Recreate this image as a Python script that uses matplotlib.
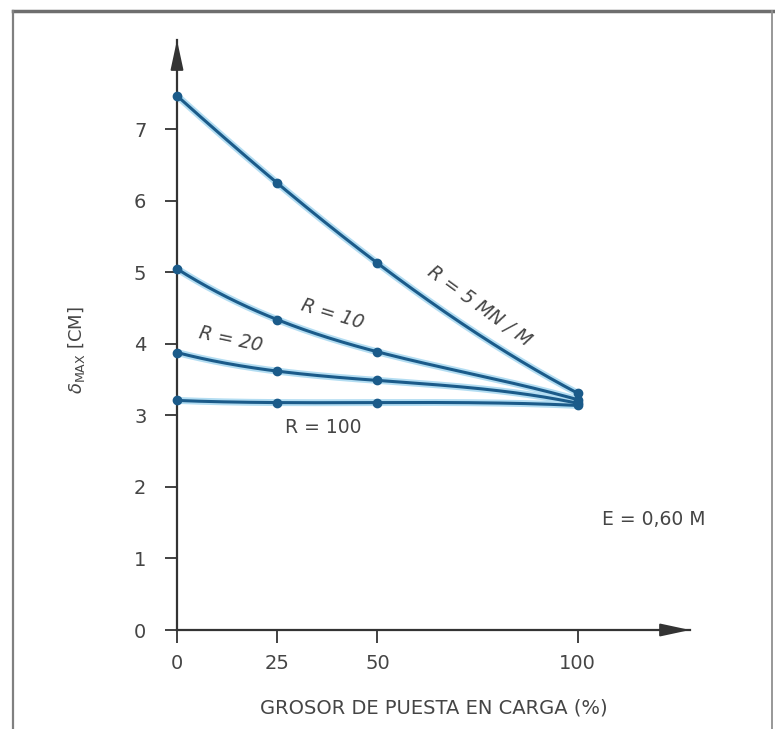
import numpy as np
import matplotlib.pyplot as plt
from matplotlib.lines import Line2D

# datos
grosor = [0, 25, 50, 100]
r5 = [7.47, 6.25, 5.13, 3.31]
r10 = [5.05, 4.34, 3.89, 3.22]
r20 = [3.88, 3.62, 3.49, 3.17]
r100 = [3.21, 3.18, 3.18, 3.14]

etiquetas = ["R = 5 MN / M", "R = 10", "R = 20", "R = 100"]
x_ticks = [0, 25, 50, 100]
y_ticks = [0, 1, 2, 3, 4, 5, 6, 7]

plt.rcParams['font.family'] = ['DejaVu Sans']
gris = '#454545'
azul = '#1b5b8a'

fig = plt.figure(figsize=(7.75, 7.29), dpi=100)

# marco del recuadro (sin borde inferior)
W, H = 775, 729
fig.add_artist(Line2D([13 / W, 773 / W], [1 - 11 / H, 1 - 11 / H], transform=fig.transFigure,
                      color='#6e6e6e', lw=2.5))
fig.add_artist(Line2D([13 / W, 13 / W], [0, 1 - 11 / H], transform=fig.transFigure,
                      color='#808080', lw=1.6))
fig.add_artist(Line2D([772 / W, 772 / W], [0, 1 - 11 / H], transform=fig.transFigure,
                      color='#909090', lw=1.3))

ax = fig.add_axes([177 / W, 99 / H, 513 / W, 590 / H])
ax.set_xlim(0, 128)
ax.set_ylim(0, 8.25)

# curvas suaves que pasan por los puntos
xs = np.linspace(0, 100, 200)
for serie in [r5, r10, r20, r100]:
    coef = np.polyfit(grosor, serie, 3)
    ys = np.polyval(coef, xs)
    ax.plot(xs, ys, color='#b3ddf2', lw=5, solid_capstyle='round', clip_on=False, zorder=2)
    ax.plot(xs, ys, color=azul, lw=2.2, solid_capstyle='round', clip_on=False, zorder=3)
    ax.plot(grosor, serie, 'o', color=azul, ms=6, clip_on=False, zorder=4)

for s in ['top', 'right']:
    ax.spines[s].set_visible(False)
for s in ['left', 'bottom']:
    ax.spines[s].set_color('#333333')
    ax.spines[s].set_linewidth(1.6)

# flechas de los ejes
flecha = dict(arrowstyle='-|>,head_length=1.3,head_width=0.28', color='#333333',
              lw=1.4, mutation_scale=14, shrinkA=0, shrinkB=0)
ax.annotate('', xy=(128, 0), xytext=(118, 0), arrowprops=flecha, annotation_clip=False)
ax.annotate('', xy=(0, 8.25), xytext=(0, 7.6), arrowprops=flecha, annotation_clip=False)

ax.set_xticks(x_ticks)
ax.set_yticks(y_ticks)
ax.tick_params(axis='both', direction='out', length=9, width=1.3, color='#333333',
               labelsize=14, labelcolor=gris)
ax.tick_params(axis='y', pad=13)
ax.tick_params(axis='x', pad=8)

ax.set_xlabel('GROSOR DE PUESTA EN CARGA (%)', fontsize=14, color=gris)
ax.xaxis.set_label_coords((434 - 177) / 513, -68 / 590)
ax.set_ylabel(r'$\delta_{\mathrm{MAX}}$ [CM]', fontsize=13, color=gris)
ax.yaxis.set_label_coords(-90 / 513, (630 - 350) / 590)

# etiquetas de las curvas
ax.text(75.5, 4.53, etiquetas[0], rotation=-36, ha='center', va='center',
        fontsize=13.5, color=gris, style='italic')
ax.text(38.8, 4.42, etiquetas[1], rotation=-17, ha='center', va='center',
        fontsize=13.5, color=gris, style='italic')
ax.text(13.5, 4.07, etiquetas[2], rotation=-12, ha='center', va='center',
        fontsize=13.5, color=gris, style='italic')
ax.text(36.6, 2.83, etiquetas[3], ha='center', va='center',
        fontsize=13.5, color=gris)
ax.text(119, 1.55, 'E = 0,60 M', ha='center', va='center', fontsize=13.5, color=gris)

fig.savefig('out.png', dpi=100)
